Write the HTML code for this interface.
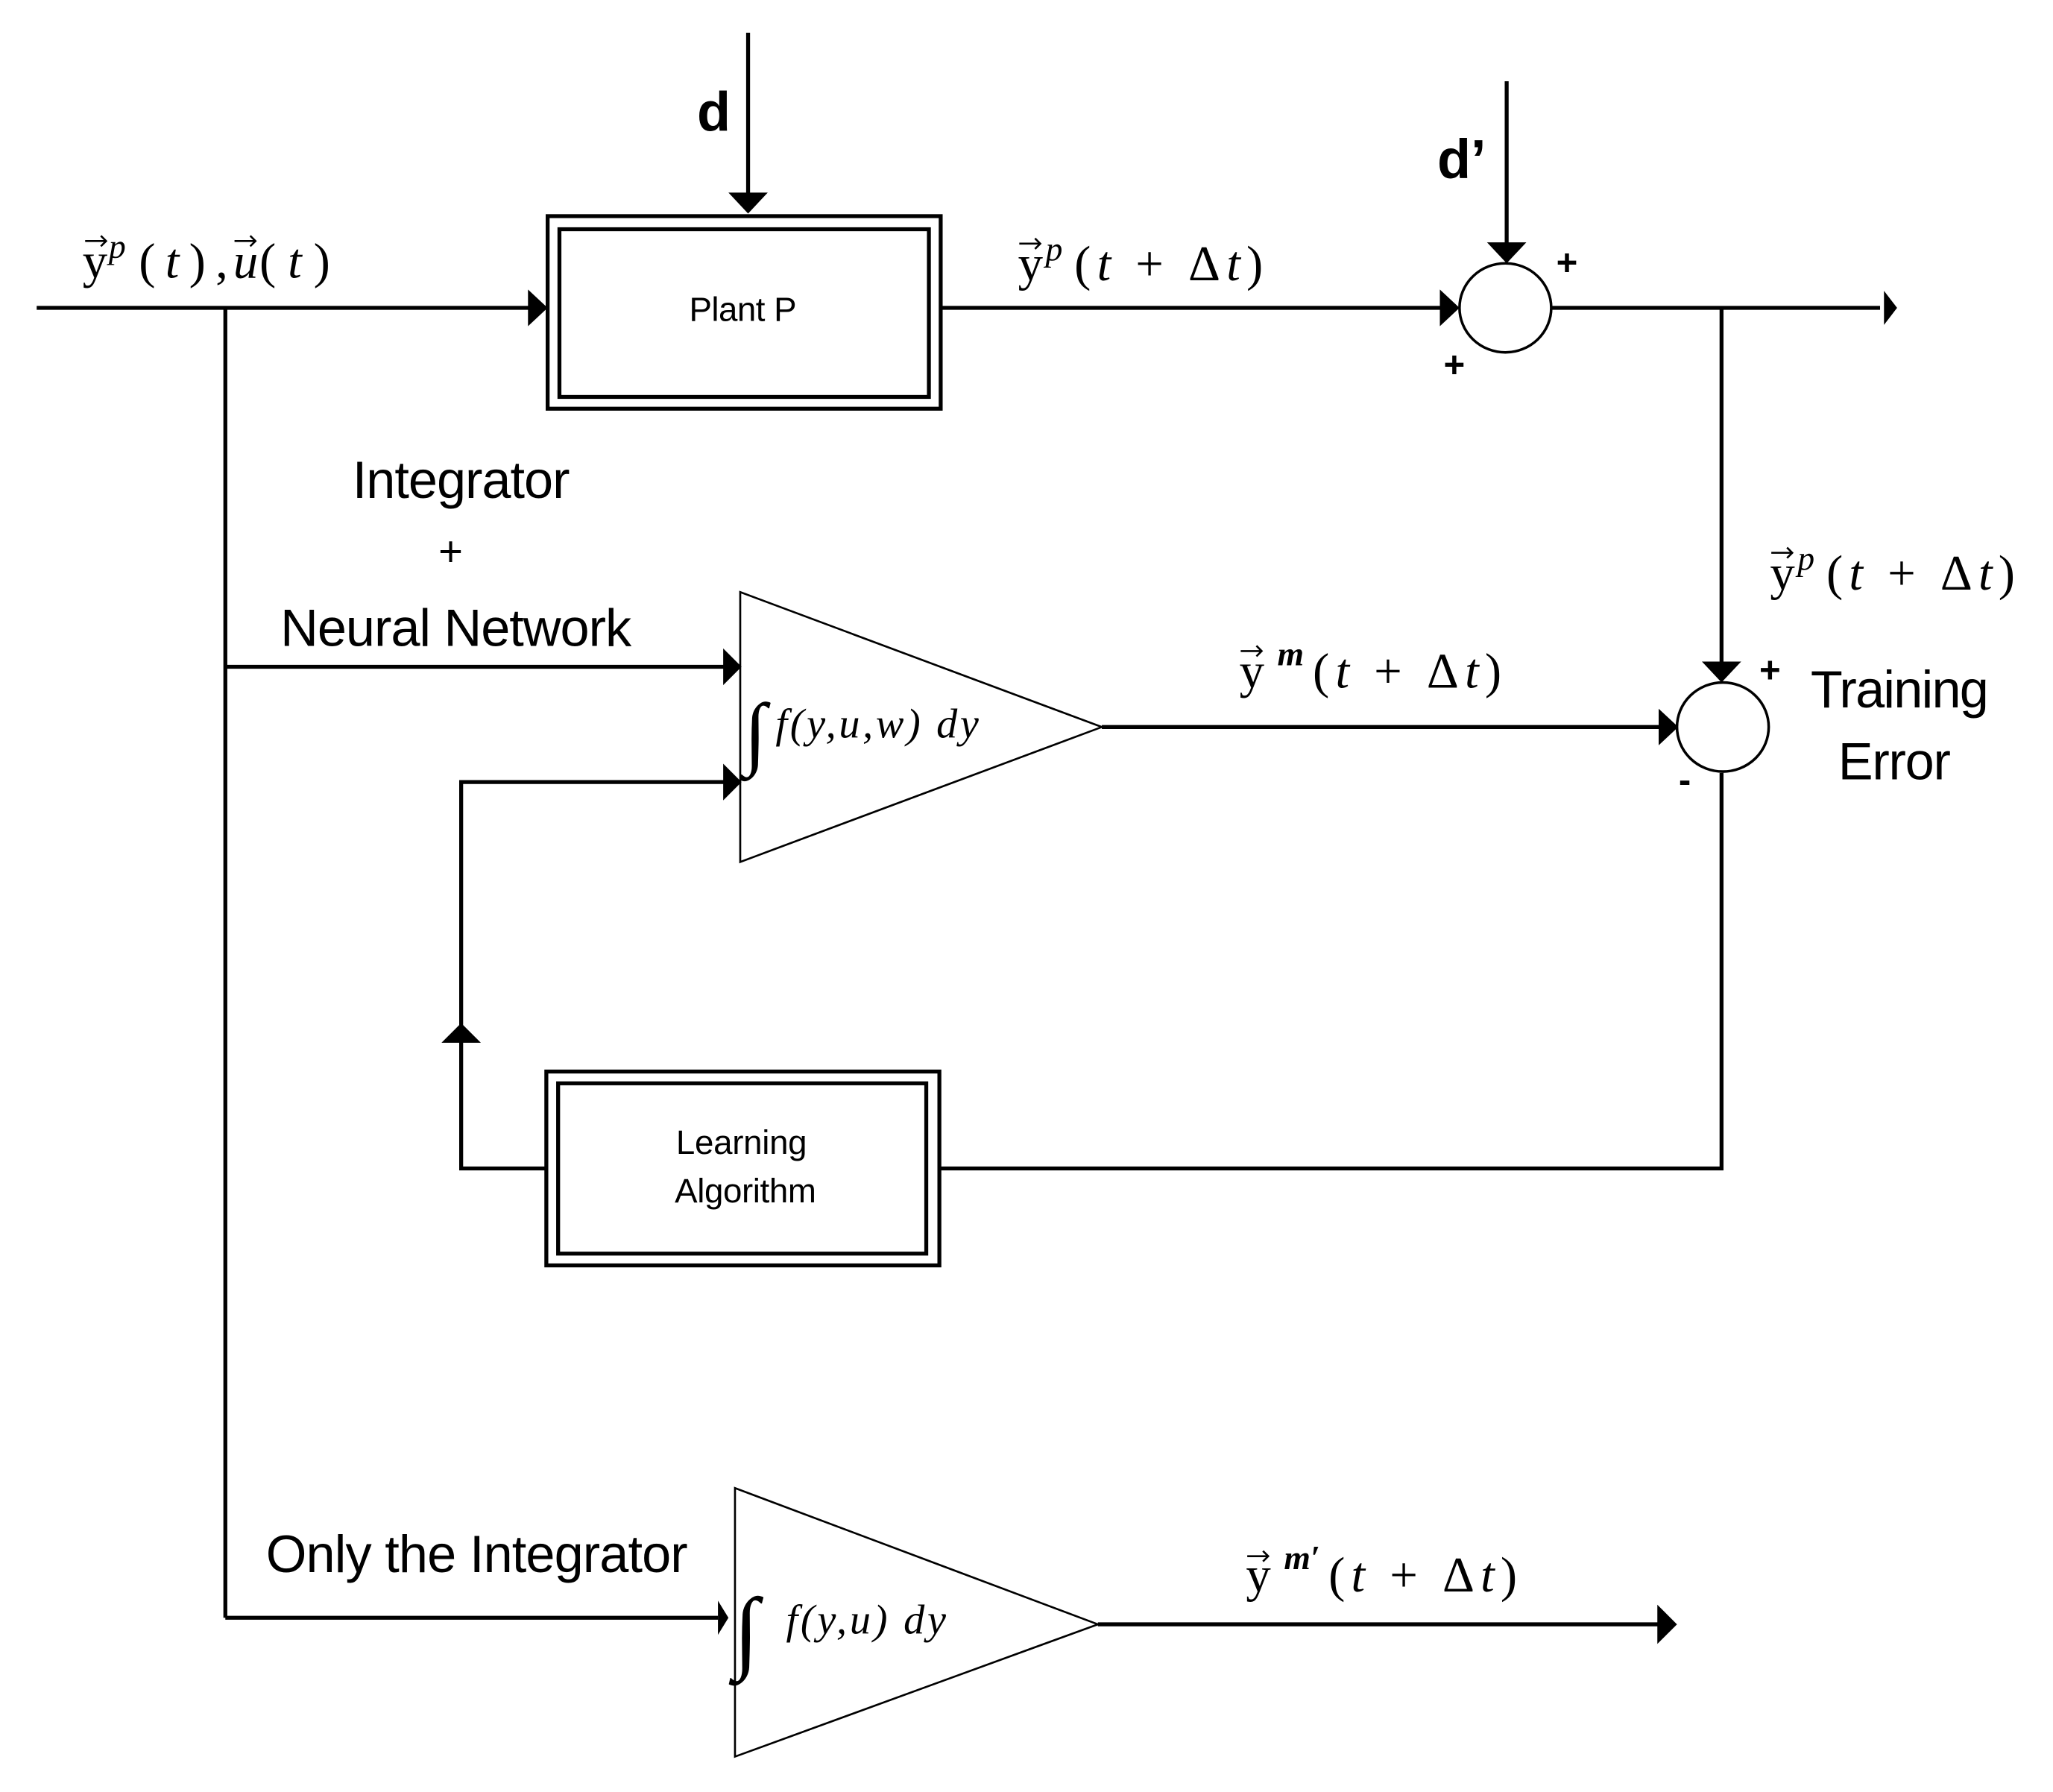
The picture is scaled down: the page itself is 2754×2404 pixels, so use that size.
<!DOCTYPE html>
<html><head><meta charset="utf-8"><style>
html,body{margin:0;padding:0;background:#fff;}
svg{display:block;}
.m{font-family:"Liberation Serif",serif;font-style:italic;}
.r{font-family:"Liberation Serif",serif;}
.s{font-family:"Liberation Sans",sans-serif;}
</style></head><body>
<svg width="2754" height="2404" viewBox="0 0 1567 1368" preserveAspectRatio="none" xmlns="http://www.w3.org/2000/svg">
<g stroke="#000" stroke-width="3" fill="none">
<line x1="28" y1="235" x2="405" y2="235"/>
<rect x="418" y="165" width="300" height="147"/>
<rect x="427" y="175" width="282" height="128"/>
<line x1="571" y1="25" x2="571" y2="148"/>
<line x1="718" y1="235" x2="1100" y2="235"/>
<line x1="1150" y1="62" x2="1150" y2="186"/>
<line x1="1184" y1="235" x2="1435" y2="235"/>
<line x1="1314" y1="235" x2="1314" y2="506"/>
<line x1="172" y1="235" x2="172" y2="1235"/>
<line x1="172" y1="509" x2="553" y2="509"/>
<polyline points="553,597 352,597 352,892 417,892"/>
<polyline points="717,892 1314,892 1314,590"/>
<line x1="841" y1="555" x2="1268" y2="555"/>
<rect x="417" y="818" width="300" height="148"/>
<rect x="426" y="827" width="281" height="130"/>
<line x1="172" y1="1235" x2="548" y2="1235"/>
<line x1="838" y1="1240" x2="1266" y2="1240"/>
</g>
<g stroke="#000" stroke-width="2" fill="#fff">
<ellipse cx="1149" cy="235" rx="35" ry="34"/>
<ellipse cx="1315" cy="555" rx="35" ry="34"/>
</g>
<g stroke="#000" stroke-width="1.5" fill="none">
<polygon points="565,452 565,658 841,555"/>
<polygon points="561,1136 561,1341 838,1240"/>
</g>
<g fill="#000">
<polygon points="403,221 418,235 403,249"/>
<polygon points="556,147 586,147 571,163"/>
<polygon points="1099,221 1114,235 1099,249"/>
<polygon points="1135,185 1165,185 1150,201"/>
<polygon points="1438,222 1448,235 1438,248"/>
<polygon points="1299,505 1329,505 1314,521"/>
<polygon points="1266,541 1281,555 1266,569"/>
<polygon points="552,495 566,509 552,523"/>
<polygon points="552,583 566,597 552,611"/>
<polygon points="337,796 367,796 352,781"/>
<polygon points="548,1222 556,1235 548,1248"/>
<polygon points="1265,1225 1280,1240 1265,1255"/>
</g>
<g stroke="#000" stroke-width="1.5" fill="none">
<path d="M65,184 H81 M77,180 L81,184 L77,188"/>
<path d="M179,184 H195 M191,180 L195,184 L191,188"/>
<path d="M778,186 H794 M790,182 L794,186 L790,190"/>
<path d="M1352,422 H1368 M1364,418 L1368,422 L1364,426"/>
<path d="M947,497 H963 M959,493 L963,497 L959,501"/>
<path d="M952,1188 H968 M964,1184 L968,1188 L964,1192"/>
</g>
<g fill="#000">
<text x="532" y="100" class="s" font-size="42" font-weight="bold">d</text>
<text x="1097" y="136" class="s" font-size="42" font-weight="bold">d’</text>
<text x="1196" y="210" class="s" font-size="28" font-weight="bold" text-anchor="middle">+</text>
<text x="1110" y="288" class="s" font-size="28" font-weight="bold" text-anchor="middle">+</text>
<text x="1351" y="521" class="s" font-size="28" font-weight="bold" text-anchor="middle">+</text>
<text x="1286" y="605" class="s" font-size="28" font-weight="bold" text-anchor="middle">-</text>
<text x="567" y="245" class="s" font-size="26" text-anchor="middle" textLength="82">Plant P</text>
<text x="566" y="881" class="s" font-size="26" text-anchor="middle" textLength="100">Learning</text>
<text x="569" y="918" class="s" font-size="26" text-anchor="middle" textLength="108">Algorithm</text>
<text x="352" y="380" class="s" font-size="40" text-anchor="middle" textLength="166">Integrator</text>
<text x="344" y="432" class="s" font-size="32" text-anchor="middle">+</text>
<text x="348" y="493" class="s" font-size="40" text-anchor="middle" textLength="268">Neural Network</text>
<text x="364" y="1200" class="s" font-size="40" text-anchor="middle" textLength="322">Only the Integrator</text>
<text x="1450" y="540" class="s" font-size="40" text-anchor="middle" textLength="136">Training</text>
<text x="1446" y="595" class="s" font-size="40" text-anchor="middle" textLength="86">Error</text>

<text x="63" y="212" class="r" font-size="38">y</text>
<text x="83" y="197" class="m" font-size="26">p</text>
<text x="106" y="212" class="r" font-size="38" textLength="68">(<tspan class="m">t</tspan>),</text>
<text x="178" y="212" class="m" font-size="38">u</text>
<text x="198" y="212" class="r" font-size="38" textLength="54">(<tspan class="m">t</tspan>)</text>

<text x="777" y="214" class="r" font-size="38">y</text>
<text x="798" y="199" class="m" font-size="26">p</text>
<text x="820" y="214" class="r" font-size="38" textLength="144">(<tspan class="m">t</tspan> + Δ<tspan class="m">t</tspan>)</text>

<text x="1351" y="450" class="r" font-size="38">y</text>
<text x="1372" y="435" class="m" font-size="26">p</text>
<text x="1394" y="450" class="r" font-size="38" textLength="144">(<tspan class="m">t</tspan> + Δ<tspan class="m">t</tspan>)</text>

<text x="946" y="525" class="r" font-size="38">y</text>
<text x="975" y="508" class="m" font-size="26" font-weight="bold">m</text>
<text x="1002" y="525" class="r" font-size="38" textLength="144">(<tspan class="m">t</tspan> + Δ<tspan class="m">t</tspan>)</text>

<text x="951" y="1215" class="r" font-size="38">y</text>
<text x="980" y="1198" class="m" font-size="26" font-weight="bold">m′</text>
<text x="1014" y="1215" class="r" font-size="38" textLength="144">(<tspan class="m">t</tspan> + Δ<tspan class="m">t</tspan>)</text>

<text x="568" y="580" class="r" font-size="62">∫</text>
<text x="592" y="563" class="m" font-size="32" textLength="155">f(y,u,w) dy</text>
<text x="560" y="1268" class="r" font-size="70">∫</text>
<text x="600" y="1247" class="m" font-size="32" textLength="122">f(y,u) dy</text>
</g>
</svg>
</body></html>
